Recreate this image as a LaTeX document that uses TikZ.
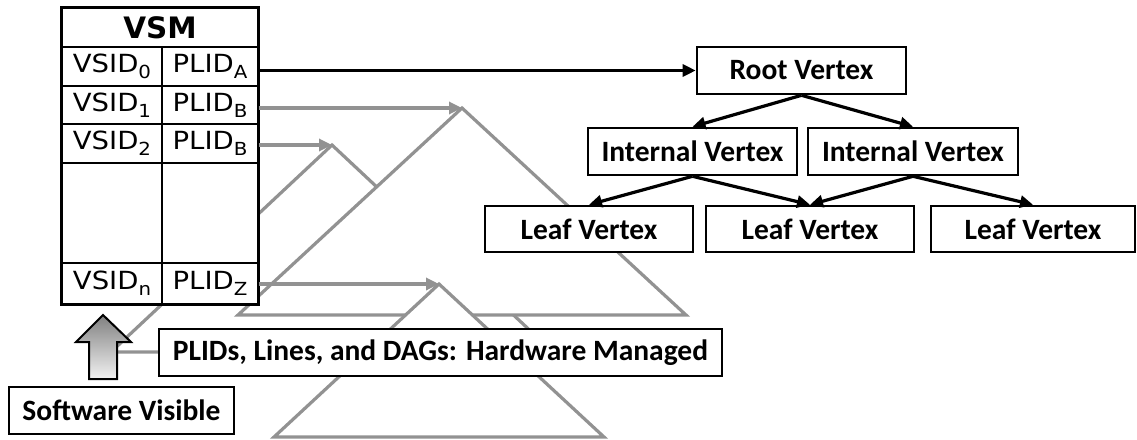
\documentclass[tikz,border=0pt]{standalone}
\usepackage{fontspec}
\setmainfont{Carlito}
\newfontfamily\tabfont[FakeStretch=1.1]{DejaVu Sans}
\newfontfamily\hdfont{DejaVu Sans}
\usetikzlibrary{arrows.meta,calc}
\definecolor{trigray}{RGB}{146,146,146}
\definecolor{shadetop}{RGB}{128,128,128}
\definecolor{shadebot}{RGB}{242,242,242}
% index set low and small after an identifier
\newcommand\lowidx[1]{\raisebox{-6pt}{\fontsize{18}{18}\selectfont #1}}

\begin{document}
\begin{tikzpicture}[x=1pt,y=-1pt,
  cell/.style={draw=black,line width=1.3pt,fill=white,inner sep=0pt,
    font=\tabfont\fontsize{25}{28}\selectfont},
  vbox/.style={draw=black,line width=2.6pt,fill=white,inner sep=0pt,
    font=\bfseries\fontsize{29.5}{32}\selectfont},
  tri/.style={draw=trigray,line width=3.2pt,fill=white,line join=miter},
  garrow/.style={draw=trigray,line width=3.2pt,-{Triangle[length=13pt,width=12pt]}},
  barrow/.style={draw=black,line width=3.2pt,-{Triangle[length=13pt,width=12pt]}}]

\useasboundingbox (0,0) rectangle (1137,439);

% line DAGs, back to front
\coordinate (t1) at (462,108);
\coordinate (t2) at (332,145);
\coordinate (t3) at (439,284);
\draw[tri] (t2) -- ++(-221,207) -- ++(442,0) -- cycle;
\draw[tri] (t1) -- ++(-224,207) -- ++(448,0) -- cycle;
\draw[tri] (t3) -- ++(-165,153) -- ++(330,0) -- cycle;

% VSM table
\node[cell,minimum width=196pt,minimum height=39pt,
  font=\hdfont\bfseries\fontsize{29.5}{32}\selectfont] (vsm) at (160,27.5) {VSM};
\node[cell,minimum width=100pt,minimum height=39pt] (v0) at (112,66.5) {VSID\lowidx{0}};
\node[cell,minimum width=96pt,minimum height=39pt]  (p0) at (210,66.5) {PLID\lowidx{A}};
\node[cell,minimum width=100pt,minimum height=38pt] (v1) at (112,105) {VSID\lowidx{1}};
\node[cell,minimum width=96pt,minimum height=38pt]  (p1) at (210,105) {PLID\lowidx{B}};
\node[cell,minimum width=100pt,minimum height=39pt] (v2) at (112,143.5) {VSID\lowidx{2}};
\node[cell,minimum width=96pt,minimum height=39pt]  (p2) at (210,143.5) {PLID\lowidx{B}};
\node[cell,minimum width=100pt,minimum height=100pt] (ve) at (112,213) {};
\node[cell,minimum width=96pt,minimum height=100pt]  (pe) at (210,213) {};
\node[cell,minimum width=100pt,minimum height=41pt] (vz) at (112,283.5) {VSID\lowidx{n}};
\node[cell,minimum width=96pt,minimum height=41pt]  (pz) at (210,283.5) {PLID\lowidx{Z}};
\draw[line width=2pt] (vsm.north west) rectangle (pz.south east);

% PLID pointers into the line DAGs
\draw[garrow] (p1.east |- t1) -- (t1);
\draw[garrow] (p2.east |- t2) -- (t2);
\draw[garrow] (pz.east |- t3) -- (t3);

% vertex tree
\node[vbox,minimum width=209pt,minimum height=47pt] (root) at (801.5,70.5) {Root Vertex};
\node[vbox,minimum width=209pt,minimum height=47pt] (in1) at (692.5,151.5) {Internal Vertex};
\node[vbox,minimum width=210pt,minimum height=47pt] (in2) at (913,151.5) {Internal Vertex};
\node[vbox,minimum width=208pt,minimum height=46pt] (lf1) at (589,229) {Leaf Vertex};
\node[vbox,minimum width=208pt,minimum height=46pt] (lf2) at (810,229) {Leaf Vertex};
\node[vbox,minimum width=204pt,minimum height=46pt] (lf3) at (1033,229) {Leaf Vertex};

\draw[barrow] (p0.east |- root.west) -- (root.west);
\draw[barrow] (root.south) -- (in1.north);
\draw[barrow] (root.south) -- (in2.north);
\draw[barrow] (in1.south) -- (lf1.north);
\draw[barrow] (in1.south) -- (lf2.north);
\draw[barrow] (in2.south) -- (lf2.north);
\draw[barrow] (in2.south) -- (lf3.north);

% captions
\node[vbox,minimum width=563pt,minimum height=47pt] (hw) at (440.5,352.5)
  {PLIDs, Lines, and DAGs: Hardware Managed};
\node[vbox,minimum width=225pt,minimum height=47pt] (sw) at (121.5,410.5)
  {Software Visible};

% boundary arrow
\draw[line width=2pt,line join=miter,top color=shadetop,bottom color=shadebot]
  (103,315) -- (131,342) -- (117,342) -- (117,379) -- (89,379) -- (89,342) -- (76,342) -- cycle;

\end{tikzpicture}
\end{document}
